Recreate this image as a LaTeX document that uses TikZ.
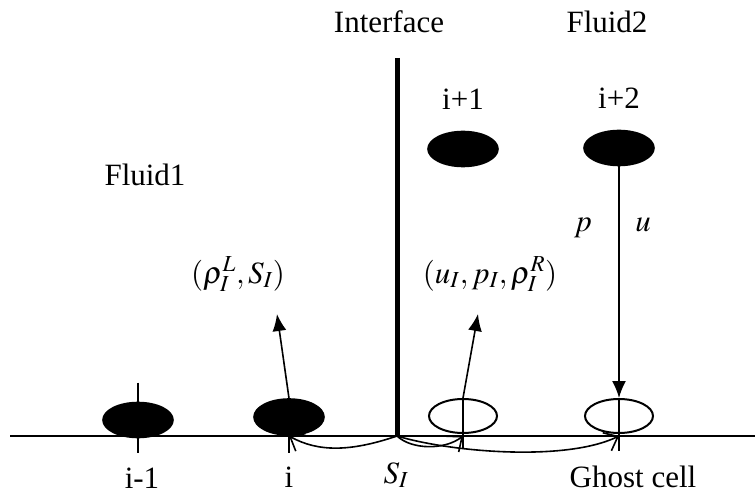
\documentclass[tikz,border=0pt]{standalone}
\usepackage{mathptmx}
\usepackage{fontspec}
\setmainfont{Liberation Serif}
\usepackage{tikz}
\usetikzlibrary{arrows.meta,positioning,shapes.geometric}

\begin{document}
\begin{tikzpicture}[
  x=1pt, y=-1pt,
  line width=1.6pt,
  >={Latex[length=17pt,width=14pt]},
  txt/.style={inner sep=0pt, anchor=base, font=\fontsize{31}{36}\selectfont},
  cellfull/.style={ellipse, draw, fill=black, minimum width=70pt, minimum height=35pt, inner sep=0pt},
  cellopen/.style={ellipse, draw, line width=2pt, minimum width=68pt, minimum height=34pt, inner sep=0pt},
  flow/.style={-{Straight Barb[length=12pt,width=20pt]}}
]
\useasboundingbox (0,0) rectangle (755,497);

% axis and interface
\coordinate (axl) at (10,436);
\coordinate (axr) at (755,436);
\coordinate (itop) at (397,58);
\coordinate (ifoot) at (397,436);
\draw (axl) -- (axr);
\draw[line width=5pt] (itop) -- (ifoot);

\node[txt] (iface) at (389,33) {Interface};
\node[txt] (fl2) at (607,33) {Fluid2};
\node[txt] (fl1) at (145,186) {Fluid1};

% upper cells (fluid 2)
\node[cellfull] (up1) at (463,149) {};
\node[cellfull] (up2) at (619,148) {};
\node[txt, above=20pt of up1] (lup1) {i+1};
\node[txt, above=20pt of up2] (lup2) {i+2};

% cells on the line
\node[cellfull] (cim1) at (138,420) {};
\node[cellfull, minimum height=36pt] (ci) at (289,417) {};
\node[cellopen] (cip1) at (463,416) {};
\node[cellopen] (cghost) at (619,416) {};

\draw ([yshift=19pt]cim1.north) -- ([yshift=-15pt]cim1.south);
\draw (ci.north) -- ([yshift=-17pt]ci.south);
\draw (cip1.north) -- ([yshift=-15pt]cip1.south);
\draw (cghost.north) -- ([yshift=-17pt]cghost.south);

\node[txt] (lim1) at (142,488) {i-1};
\node[txt] (li) at (289,487) {i};
\node[txt] (lsi) at (396,483) {$S_{I}$};
\node[txt] (lghost) at (633,487) {Ghost cell};

% interface states
\node[txt] (lleft) at (238,283) {$(\rho_{I}^{L}, S_{I})$};
\node[txt] (lright) at (490,283) {$(u_{I}, p_{I}, \rho_{I}^{R})$};
\node[txt] (lp) at (583,232) {$p$};
\node[txt] (lu) at (643,232) {$u$};

\coordinate (hl) at (277,314);
\coordinate (hr) at (478,314);
\draw[->] (ci.north) -- (hl);
\draw[->] (cip1.north) -- (hr);
\draw[->] (up2.south) -- (cghost.north);

% curves from the interface
\draw[flow] (ifoot) .. controls (350,452) and (318,452) .. (ci.south |- ifoot);
\draw[flow] (ifoot) .. controls (412,450) and (445,450) .. (cip1.south |- ifoot);
\draw[flow] (ifoot) .. controls (450,452) and (565,462) .. (cghost.south |- ifoot);

\end{tikzpicture}
\end{document}
